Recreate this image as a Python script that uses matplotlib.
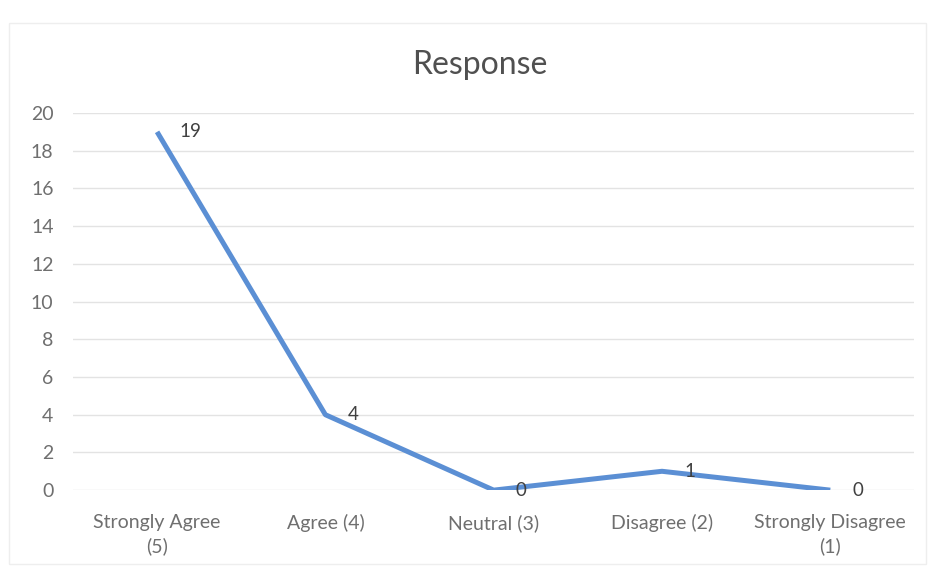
import matplotlib.pyplot as plt
import numpy as np

# survey responses
categories = ["Strongly Agree\n(5)", "Agree (4)", "Neutral (3)", "Disagree (2)", "Strongly Disagree\n(1)"]
responses = [19, 4, 0, 1, 0]
yticks = [0, 2, 4, 6, 8, 10, 12, 14, 16, 18, 20]

plt.rcParams['font.family'] = ['Lato', 'DejaVu Sans']

fig = plt.figure(figsize=(9.35, 5.78), dpi=100)
ax = fig.add_axes([0.078, 0.152, 0.90, 0.6525])

x = np.arange(len(categories))
ax.plot(x, responses, color='#5b8fd4', linewidth=3.6, solid_capstyle='butt', zorder=3)
for xi, v in zip(x, responses):
    ax.annotate(str(v), (xi, v), xytext=(16, 0), textcoords='offset points',
                ha='left', va='center', fontsize=13.5, color='#404040')

ax.set_xlim(-0.5, len(categories) - 0.5)
ax.set_ylim(0, 20)
ax.set_yticks(yticks)
ax.set_xticks(x)
ax.set_xticklabels(categories, fontsize=14, color='#6f6f6f', linespacing=1.45)
ax.tick_params(axis='y', labelsize=14, labelcolor='#6f6f6f', length=0, pad=14)
ax.tick_params(axis='x', length=0, pad=17)
ax.grid(axis='y', color='#e3e3e3', linewidth=1)
ax.set_axisbelow(True)
for s in ax.spines.values():
    s.set_visible(False)

fig.text(0.513, 0.887, "Response", ha='center', va='center', fontsize=23, color='#505050')

# faint chart border
fig.patches.append(plt.Rectangle((0.01, 0.025), 0.98, 0.935, transform=fig.transFigure,
                                 fill=False, edgecolor='#eeeeee', linewidth=1))

fig.savefig('out.png', dpi=100)
